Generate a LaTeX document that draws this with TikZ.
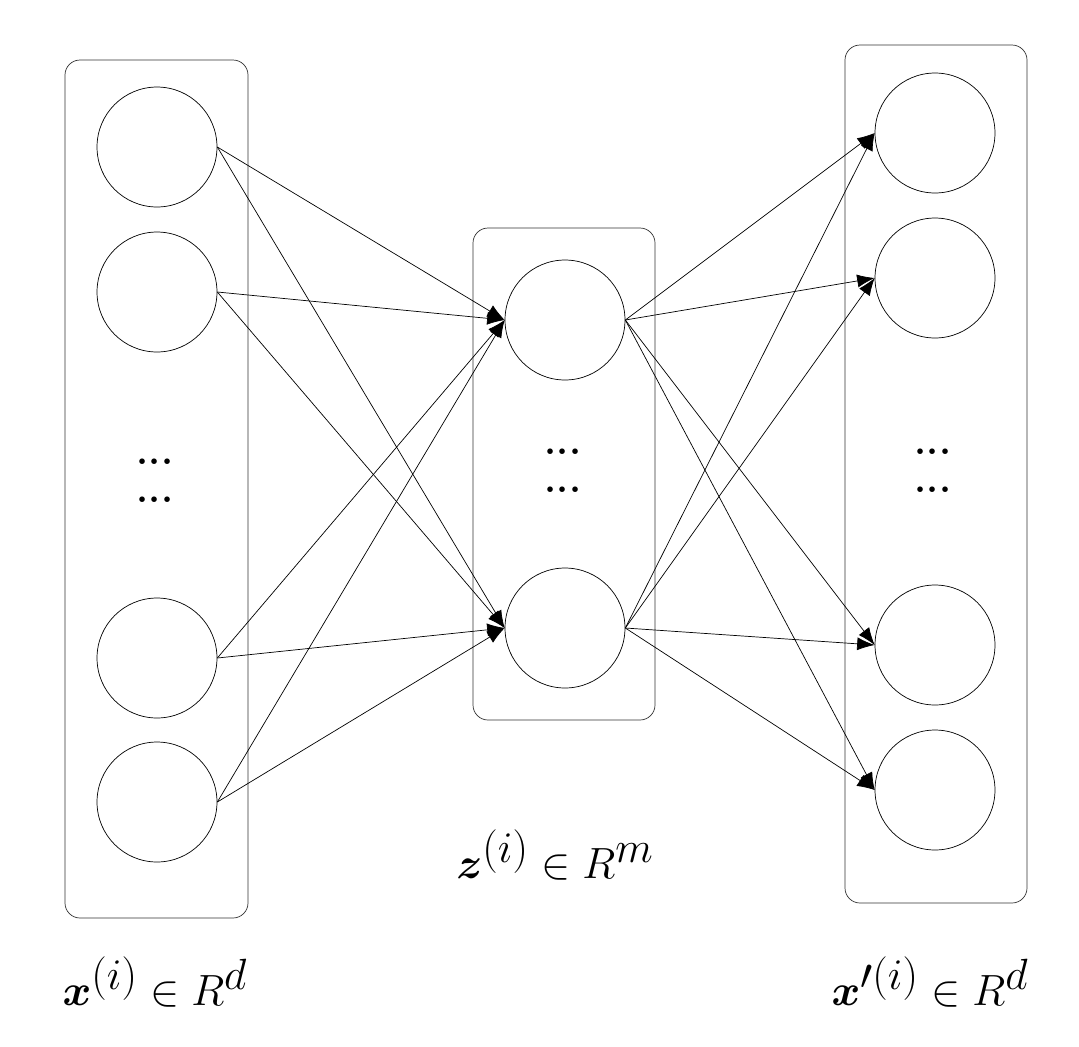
\documentclass[tikz,border=0pt]{standalone}
\usepackage{amsmath,amssymb,amsbsy}
\usetikzlibrary{arrows,arrows.meta,positioning}
\begin{document}
\begin{tikzpicture}[x=0.02cm,y=-0.02cm,
unit/.style={
% The shape:
circle,
% The size:
minimum size=2.4cm, inner sep=0pt,
% The border:
draw=black, thin},
layer/.style={rectangle, rounded corners=0.3cm, draw=black!80, thin},
conn/.style={-{Latex[length=3.5mm,width=2.6mm]}, thin},
dots/.style={font=\fontsize{22}{22}\selectfont\bfseries},
lbl/.style={font=\fontsize{40}{46}\selectfont}]
\useasboundingbox (0,0) rectangle (1079,1046);

% the three layers
\draw[layer] (65,60) rectangle (248,918);
\draw[layer] (473,228) rectangle (655,720);
\draw[layer] (845,45) rectangle (1027,903);

\node (in1) [unit] at (157,147) {};
\node (in2) [unit] at (157,292) {};
\node (in3) [unit] at (157,658) {};
\node (in4) [unit] at (157,802) {};
\node (hid1) [unit] at (565,320) {};
\node (hid2) [unit] at (565,628) {};
\node (out1) [unit] at (935,133) {};
\node (out2) [unit] at (935,278) {};
\node (out3) [unit] at (935,645) {};
\node (out4) [unit] at (935,790) {};

\node (indotsa) [dots] at (155,462) {...};
\node (indotsb) [dots] at (155,500) {...};
\node (hiddotsa) [dots] at (563,452) {...};
\node (hiddotsb) [dots] at (563,490) {...};
\node (outdotsa) [dots] at (933,452) {...};
\node (outdotsb) [dots] at (933,490) {...};

\foreach \i in {1,2,3,4}
  \foreach \j in {1,2}
    \draw[conn] (in\i.east) -- (hid\j.west);
\foreach \j in {1,2}
  \foreach \k in {1,2,3,4}
    \draw[conn] (hid\j.east) -- (out\k.west);

\node (inlbl) [lbl] at (155,982) {$\boldsymbol{x}^{(i)}\in R^{d}$};
\node (hidlbl) [lbl] at (555,855) {$\boldsymbol{z}^{(i)}\in R^{m}$};
\node (outlbl) [lbl] at (930,982) {$\boldsymbol{x}'^{(i)}\in R^{d}$};
\end{tikzpicture}
\end{document}
